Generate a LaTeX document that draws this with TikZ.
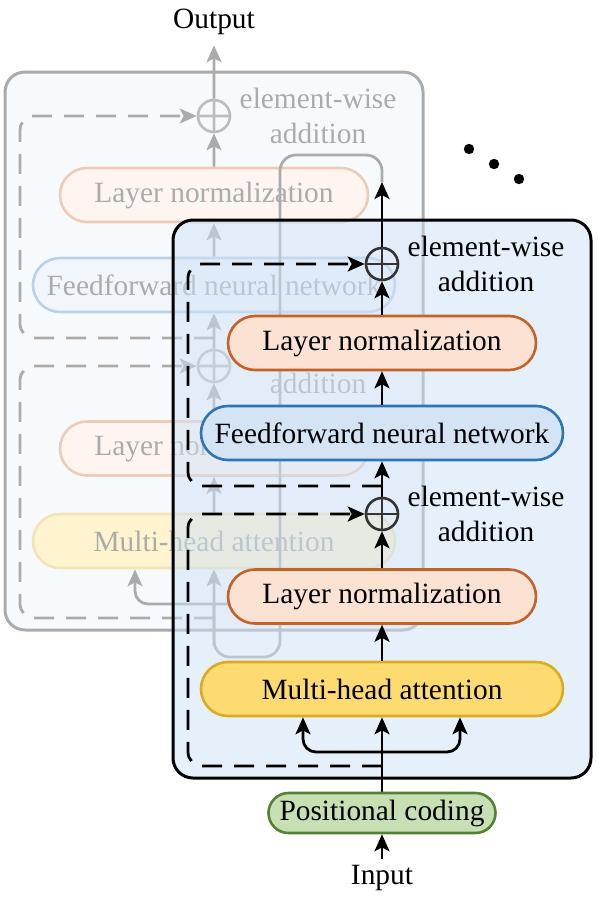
\documentclass[tikz,border=0pt]{standalone}
\usepackage{fontspec}
\setmainfont{Liberation Serif}
\usetikzlibrary{arrows.meta,positioning}
\definecolor{LNfill}{RGB}{251,226,210}
\definecolor{LNdraw}{RGB}{196,98,40}
\definecolor{FFfill}{RGB}{212,228,245}
\definecolor{FFdraw}{RGB}{46,117,182}
\definecolor{MHfill}{RGB}{254,219,112}
\definecolor{MHdraw}{RGB}{218,172,36}
\definecolor{PCfill}{RGB}{198,224,180}
\definecolor{PCdraw}{RGB}{84,130,53}
\definecolor{BOXfill}{RGB}{206,225,246}
\def\Xmain{382}
\def\Xleft{188}
\def\Xback{-168}
\def\Yback{-148}
\tikzset{
  arr/.style={-{Stealth[length=8.5pt,width=7.5pt,inset=2pt]},line width=1.4pt},
  resid/.style={arr,dash pattern=on 10pt off 6pt,rounded corners=7pt},
  splitarr/.style={arr,rounded corners=6.5pt},
  blk/.style={draw,line width=1.3pt,rounded corners=13.5pt,minimum height=27pt,inner sep=0pt},
  lnbox/.style={blk,fill=LNfill,draw=LNdraw,minimum width=154pt},
  ffbox/.style={blk,fill=FFfill,draw=FFdraw,minimum width=181pt},
  mhbox/.style={blk,fill=MHfill,draw=MHdraw,minimum width=181pt},
  pcbox/.style={blk,fill=PCfill,draw=PCdraw,minimum width=113.5pt,minimum height=20pt,rounded corners=10pt},
  addop/.style={circle,draw=black!80,line width=1.3pt,minimum size=16pt,inner sep=0pt,
    path picture={\draw[black!80,line width=1.3pt] (path picture bounding box.north)--(path picture bounding box.south)
      (path picture bounding box.west)--(path picture bounding box.east);}},
  lbl/.style={align=center,inner sep=1pt},
  layerbox/.style={draw,line width=1.5pt,rounded corners=10pt,fill=BOXfill},
}
% one encoder layer, #1 = name prefix, #2 = box options
\newcommand\EncLayer[2]{%
  \draw[layerbox,#2] (173,220) rectangle (591,778);
  \node[addop] (#1adda) at (\Xmain,264) {};
  \node[lnbox] (#1lna) at (\Xmain,343) {Layer normalization};
  \node[ffbox] (#1ff) at (\Xmain,433) {Feedforward neural network};
  \node[addop] (#1addb) at (\Xmain,514) {};
  \node[lnbox] (#1lnb) at (\Xmain,596.5) {Layer normalization};
  \node[mhbox] (#1mh) at (\Xmain,689) {Multi-head attention};
  \node[lbl,right=3pt of #1adda] (#1laba) {element-wise\\addition};
  \node[lbl,right=3pt of #1addb] (#1labb) {element-wise\\addition};
  \coordinate (#1in) at (\Xmain,793);
  \coordinate (#1fork) at (\Xmain,752);
  \coordinate (#1resa) at (\Xmain,486);
  \coordinate (#1resb) at (\Xmain,766);
  \draw[arr] (#1in) -- (#1mh.south);
  \draw[splitarr] (#1fork) -| ([xshift=-39.5pt]#1mh.south);
  \draw[splitarr] (#1fork) -| ([xshift=39pt]#1mh.south);
  \draw[arr] (#1mh) -- (#1lnb);
  \draw[arr] (#1lnb) -- (#1addb);
  \draw[arr] (#1addb) -- (#1ff);
  \draw[arr] (#1ff) -- (#1lna);
  \draw[arr] (#1lna) -- (#1adda);
  \draw[resid] (#1resb) -| (\Xleft,514) -- (#1addb.west);
  \draw[resid] (#1resa) -| (\Xleft,264) -- (#1adda.west);
}

\begin{document}
\begin{tikzpicture}[x=0.5pt,y=-0.5pt,font=\fontsize{14.7}{17.5}\selectfont]
  \path[use as bounding box] (0,0) rectangle (598,900);
  \node[inner sep=5pt] (output) at (214,22) {Output};
  \coordinate (ftop) at (\Xmain,182);
  % faded layer behind
  \begin{scope}[transparency group,opacity=0.33]
    \begin{scope}[shift={(\Xback,\Yback)}]
      \EncLayer{b}{fill=BOXfill!50}
    \end{scope}
    \draw[line width=1.4pt,rounded corners=8pt] (ftop) -- (\Xmain,155) -| (280,657) -| (bfork);
    \draw[arr] (badda) -- (output);
  \end{scope}
  % front layer
  \EncLayer{f}{fill opacity=0.5}
  \draw[arr] (fadda) -- (ftop);
  \node[pcbox] (pc) at (\Xmain,813) {Positional coding};
  \node[inner sep=3pt] (input) at (\Xmain,878) {Input};
  \draw[arr] (input) -- (pc);
  \foreach \D in {0,1,2} {\fill ({469+25*\D},{149+15*\D}) circle (2.6pt);}
\end{tikzpicture}
\end{document}
